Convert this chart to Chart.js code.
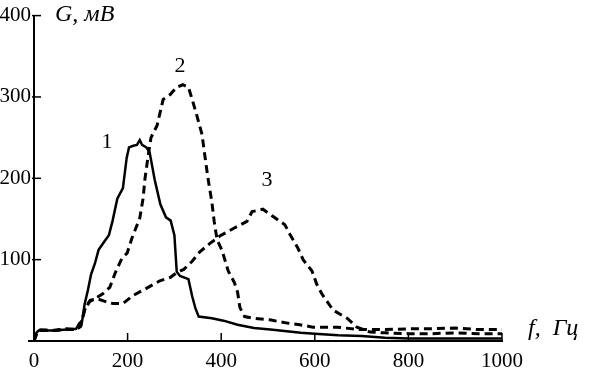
<!DOCTYPE html>
<html>
<head>
<meta charset="utf-8">
<script src="https://cdn.jsdelivr.net/npm/chart.js@4"></script>
<style>
  body { margin: 0; background: #fff; }
  #wrap { width: 589px; height: 369px; }
</style>
</head>
<body>
<div id="wrap"><canvas id="specChart" width="589" height="369"></canvas></div>
<script>
// Curve 1 (solid)
const f1 = [0, 5, 10, 40, 70, 90, 97, 103, 108, 115, 122, 130, 138, 150, 160, 168, 178, 190, 198, 203, 212, 220, 226, 231, 240, 247, 258, 270, 282, 292, 300, 305, 312, 330, 338, 345, 352, 380, 405, 435, 470, 505, 540, 570, 600, 650, 700, 750, 800, 900, 1000];
const g1 = [0, 10, 13, 13, 14, 15, 22, 25, 45, 62, 82, 95, 112, 122, 130, 148, 175, 188, 225, 238, 240, 241, 247, 241, 238, 232, 198, 168, 152, 148, 130, 85, 80, 76, 55, 40, 30, 28, 25, 20, 16, 14, 12, 10, 9, 7, 6, 4, 3, 3, 3];

// Curve 2 (dashed, high peak)
const f2 = [0, 5, 10, 40, 70, 90, 100, 108, 118, 130, 147, 162, 173, 188, 199, 209, 226, 233, 237, 244, 250, 263, 276, 291, 305, 318, 330, 338, 348, 359, 365, 372, 380, 385, 391, 402, 415, 428, 435, 440, 450, 468, 504, 541, 568, 596, 647, 697, 750, 800, 850, 900, 950, 1000];
const g2 = [0, 8, 14, 13, 15, 14, 18, 38, 48, 52, 58, 66, 83, 102, 108, 126, 151, 175, 199, 228, 250, 265, 297, 303, 312, 315, 312, 297, 277, 254, 228, 199, 171, 147, 125, 111, 86, 72, 60, 41, 30, 28, 26, 22, 20, 17, 17, 14, 14, 15, 15, 16, 14, 14];

// Curve 3 (dashed, wide)
const f3 = [0, 5, 10, 40, 70, 90, 100, 108, 120, 135, 150, 169, 190, 212, 241, 269, 291, 305, 320, 338, 355, 376, 397, 425, 455, 466, 489, 511, 536, 547, 564, 575, 594, 604, 615, 639, 669, 690, 718, 750, 800, 850, 900, 950, 1000];
const g3 = [0, 8, 13, 13, 14, 14, 20, 38, 50, 52, 49, 46, 46, 56, 65, 74, 78, 84, 88, 98, 110, 120, 129, 138, 147, 159, 162, 153, 143, 131, 114, 100, 86, 70, 58, 38, 28, 17, 11, 10, 9, 9, 10, 9, 9];

const xTicks = [0, 200, 400, 600, 800, 1000];
const yTicks = [100, 200, 300, 400];

// curve number labels: [text, f, G]
const curveLabels = [["1", 156, 244], ["2", 312, 338], ["3", 498, 198]];

const pts = (xs, ys) => xs.map((x, i) => ({ x: x, y: ys[i] }));
const serif = "'Liberation Serif', 'Times New Roman', serif";

const axisDecor = {
  id: "axisDecor",
  afterDraw(chart) {
    const ctx = chart.ctx;
    const xs = chart.scales.x, ys = chart.scales.y;
    const x0 = xs.getPixelForValue(0), y0 = ys.getPixelForValue(0);
    ctx.save();
    ctx.strokeStyle = "#000";
    ctx.lineWidth = 2;
    // small extension of the x axis to the left
    ctx.beginPath();
    ctx.moveTo(x0 - 6, y0);
    ctx.lineTo(x0, y0);
    ctx.stroke();
    // inward ticks
    ctx.lineWidth = 1.5;
    xTicks.forEach(v => {
      const p = xs.getPixelForValue(v);
      ctx.beginPath();
      ctx.moveTo(p, y0);
      ctx.lineTo(p, y0 - 8);
      ctx.stroke();
    });
    yTicks.forEach(v => {
      const p = ys.getPixelForValue(v);
      ctx.beginPath();
      ctx.moveTo(x0 - 2, p);
      ctx.lineTo(x0 + 7, p);
      ctx.stroke();
    });
    // axis titles
    ctx.fillStyle = "#000";
    ctx.font = "italic 24px " + serif;
    ctx.textAlign = "left";
    ctx.textBaseline = "alphabetic";
    ctx.fillText("G, мВ", x0 + 21, 21);
    ctx.fillText("f,  Гц", xs.right + 26, y0 - 6);
    // curve numbers
    ctx.font = "22px " + serif;
    ctx.textAlign = "center";
    ctx.textBaseline = "middle";
    curveLabels.forEach(([t, f, g]) => {
      ctx.fillText(t, xs.getPixelForValue(f), ys.getPixelForValue(g));
    });
    ctx.restore();
  }
};

new Chart(document.getElementById("specChart"), {
  type: "line",
  data: {
    datasets: [
      { data: pts(f1, g1), borderColor: "#000", borderWidth: 2.5, pointRadius: 0, tension: 0 },
      { data: pts(f2, g2), borderColor: "#000", borderWidth: 3, borderDash: [8, 5], pointRadius: 0, tension: 0 },
      { data: pts(f3, g3), borderColor: "#000", borderWidth: 3, borderDash: [8, 5], pointRadius: 0, tension: 0 }
    ]
  },
  options: {
    responsive: false,
    animation: false,
    devicePixelRatio: 1,
    layout: { padding: { top: 12, right: 87, left: 0, bottom: 0 } },
    plugins: { legend: { display: false }, tooltip: { enabled: false } },
    scales: {
      x: {
        type: "linear",
        min: 0,
        max: 1000,
        afterFit: s => { s.height = 28; },
        afterBuildTicks: s => { s.ticks = xTicks.map(v => ({ value: v })); },
        ticks: { color: "#000", font: { family: serif, size: 21 }, padding: 8, maxRotation: 0, callback: v => String(v) },
        grid: { display: false, drawTicks: false, tickLength: 0 },
        border: { display: true, color: "#000", width: 2 }
      },
      y: {
        min: 0,
        max: 400,
        afterFit: s => { s.width = 34; },
        afterBuildTicks: s => { s.ticks = yTicks.map(v => ({ value: v })); },
        ticks: { color: "#000", font: { family: serif, size: 21 }, padding: 3, callback: v => String(v) },
        grid: { display: false, drawTicks: false, tickLength: 0 },
        border: { display: true, color: "#000", width: 2 }
      }
    }
  },
  plugins: [axisDecor]
});
</script>
</body>
</html>
